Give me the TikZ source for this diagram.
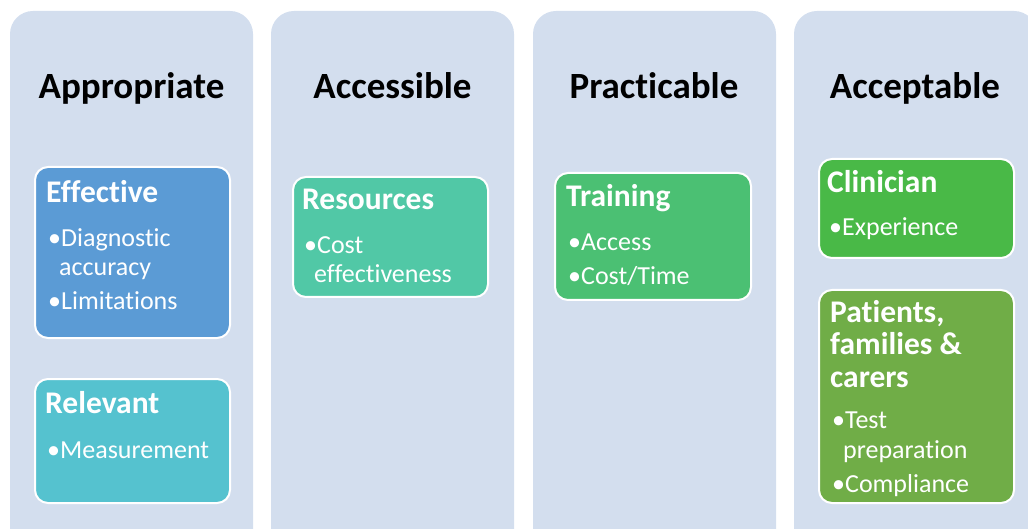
\documentclass[tikz,border=0pt]{standalone}
\usepackage{fontspec}
\setmainfont{Carlito}[Ligatures=NoCommon]
\definecolor{colbg}{HTML}{D3DEEE}
\definecolor{ceff}{HTML}{5B9BD5}
\definecolor{crel}{HTML}{55C2CF}
\definecolor{cres}{HTML}{51C8A6}
\definecolor{ctra}{HTML}{4BC073}
\definecolor{ccli}{HTML}{49B947}
\definecolor{cpat}{HTML}{70AD47}
\begin{document}
\begin{tikzpicture}[x=1pt,y=-1pt,
  col/.style={fill=colbg, draw=none, rounded corners=23pt},
  card/.style={draw=white, line width=2pt, rounded corners=13pt, anchor=north west, inner sep=0pt},
  hdr/.style={anchor=base, font=\fontsize{37}{44}\selectfont\bfseries, text=black, inner sep=0pt},
  ttl/.style={anchor=base west, font=\fontsize{31.5}{36}\selectfont\bfseries, text=white, inner sep=0pt},
  itm/.style={anchor=base west, font=\fontsize{26}{31}\selectfont, text=white, inner sep=0pt}]
\useasboundingbox (0,0) rectangle (1028,529);
\clip (0,0) rectangle (1028,529);
% columns
\fill[col] (10,11) rectangle (253,560);
\fill[col] (271,11) rectangle (514,560);
\fill[col] (533,11) rectangle (776,560);
\fill[col] (794,11) rectangle (1037,560);
% headers
\node[hdr] (h1) at (131.5,99) {Appropriate};
\node[hdr] (h2) at (392.5,99) {Accessible};
\node[hdr] (h3) at (654,99) {Practicable};
\node[hdr] (h4) at (915,99) {Acceptable};
% cards
\node[card, fill=ceff, minimum width=195pt, minimum height=171pt] (eff) at (34,166) {};
\node[card, fill=crel, minimum width=195pt, minimum height=124pt] (rel) at (34,378) {};
\node[card, fill=cres, minimum width=195pt, minimum height=120pt] (res) at (292,176) {};
\node[card, fill=ctra, minimum width=196pt, minimum height=127pt] (tra) at (554,172) {};
\node[card, fill=ccli, minimum width=195pt, minimum height=99pt] (cli) at (818,158) {};
\node[card, fill=cpat, minimum width=195pt, minimum height=213pt] (pat) at (818,289) {};
% Effective
\node[ttl] (effT) at (46,203) {Effective};
\node[itm] (eff1) at (48,247) {•Diagnostic};
\node[itm] (eff2) at (59,276) {accuracy};
\node[itm] (eff3) at (48,309) {•Limitations};
% Relevant
\node[ttl] (relT) at (45,413) {Relevant};
\node[itm] (rel1) at (47,458) {•Measurement};
% Resources
\node[ttl] (resT) at (302,210) {Resources};
\node[itm] (res1) at (304,254) {•Cost};
\node[itm] (res2) at (314,283) {effectiveness};
% Training
\node[ttl] (traT) at (566,207) {Training};
\node[itm] (tra1) at (568,251) {•Access};
\node[itm] (tra2) at (568,285) {•Cost/Time};
% Clinician
\node[ttl] (cliT) at (827,193) {Clinician};
\node[itm] (cli1) at (829,236) {•Experience};
% Patients
\node[ttl] (patT1) at (830,323) {Patients,};
\node[ttl] (patT2) at (830,354) {families \&};
\node[ttl] (patT3) at (830,387) {carers};
\node[itm] (pat1) at (832,428) {•Test};
\node[itm] (pat2) at (843,458) {preparation};
\node[itm] (pat3) at (832,492) {•Compliance};
\end{tikzpicture}
\end{document}
